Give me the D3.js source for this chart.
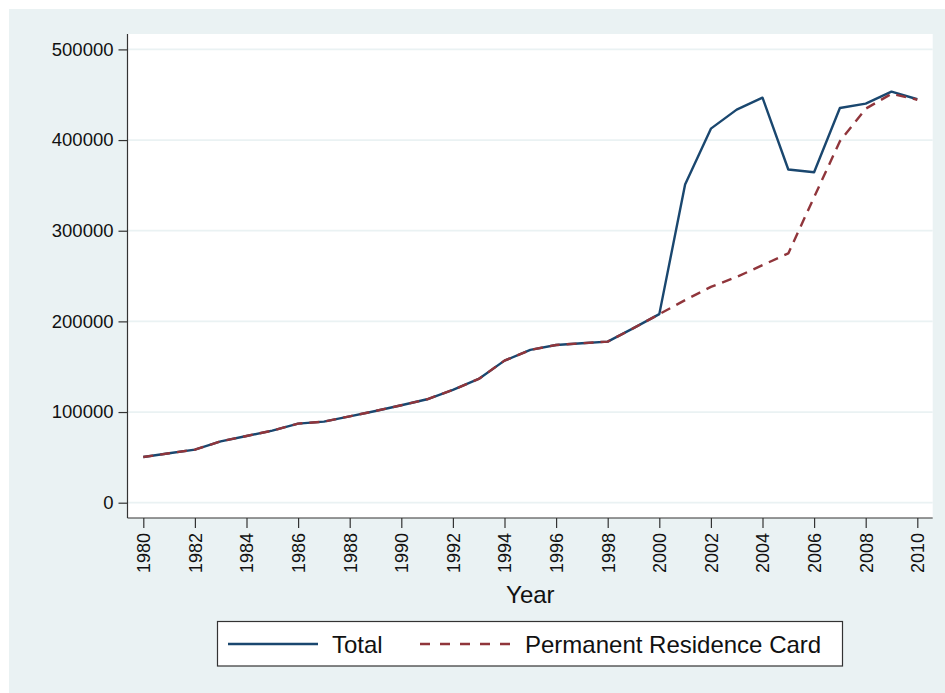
<!DOCTYPE html>
<html>
<head>
<meta charset="utf-8">
<script src="https://cdn.jsdelivr.net/npm/d3@7"></script>
<style>
  html, body { margin: 0; padding: 0; background: #ffffff; }
  svg { display: block; font-family: "Liberation Sans", Arial, sans-serif; }
</style>
</head>
<body>
<svg id="chart" width="945" height="693"></svg>
<script>
const years = d3.range(1980, 2011);
const totalValues = [
  50400, 54500, 58500, 67700, 73600, 79500, 87200, 89400, 95300, 101200,
  107500, 114100, 124400, 136500, 156700, 168500, 174000, 175900, 177700, 192500,
  208000, 351000, 412600, 433600, 446800, 367500, 364500, 435400, 440200, 453400,
  445000
];
const prcValues = [
  50400, 54500, 58500, 67700, 73600, 79500, 87200, 89400, 95300, 101200,
  107500, 114100, 124400, 136500, 156700, 168500, 174000, 175900, 177700, 192500,
  208000, 223500, 238000, 249000, 262000, 275000, 337000, 398700, 434600, 451000,
  444500
];
const yTicks = [0, 100000, 200000, 300000, 400000, 500000];
const xTicks = d3.range(1980, 2011, 2);
const seriesNames = ["Total", "Permanent Residence Card"];

const svg = d3.select("#chart");
const navy = "#1a476f", red = "#90353b", bg = "#eaf2f3";

// outer background
svg.append("rect").attr("x", 9).attr("y", 9).attr("width", 936).attr("height", 684).attr("fill", bg);

// plot region
const plot = { left: 128, right: 932.7, top: 34, bottom: 518 };
svg.append("rect").attr("x", plot.left).attr("y", plot.top)
  .attr("width", plot.right - plot.left).attr("height", plot.bottom - plot.top).attr("fill", "#ffffff");

const x = d3.scaleLinear().domain([1980, 2010]).range([143.3, 917.3]);
const y = d3.scaleLinear().domain([0, 500000]).range([502.7, 49.4]);

// gridlines
svg.append("g").selectAll("line").data(yTicks).join("line")
  .attr("x1", plot.left).attr("x2", plot.right)
  .attr("y1", d => y(d)).attr("y2", d => y(d))
  .attr("stroke", bg).attr("stroke-width", 1.8);

// y axis
const yAxis = d3.axisLeft(y).tickValues(yTicks).tickFormat(d3.format("d")).tickSize(9).tickPadding(5);
const gy = svg.append("g").attr("transform", `translate(${plot.left - 0.5},0)`).call(yAxis);
gy.select(".domain").attr("d", `M0,${plot.top}V${plot.bottom}`).attr("stroke", "#333").attr("stroke-width", 1.2);
gy.selectAll(".tick line").attr("stroke", "#333").attr("stroke-width", 1.2);
gy.selectAll(".tick text").attr("font-size", 18.5).attr("fill", "#111").attr("font-family", "Liberation Sans, Arial, sans-serif");

// x axis
const xAxis = d3.axisBottom(x).tickValues(xTicks).tickFormat(d3.format("d")).tickSize(10);
const gx = svg.append("g").attr("transform", `translate(0,${plot.bottom})`).call(xAxis);
gx.select(".domain").attr("d", `M${plot.left - 0.5},0H${plot.right}`).attr("stroke", "#333").attr("stroke-width", 1.2);
gx.selectAll(".tick line").attr("stroke", "#333").attr("stroke-width", 1.2);
gx.selectAll(".tick text")
  .attr("font-size", 18).attr("fill", "#111").attr("font-family", "Liberation Sans, Arial, sans-serif")
  .attr("transform", "rotate(-90)")
  .attr("text-anchor", "end")
  .attr("x", -15).attr("y", 0).attr("dy", "0.35em");

// axis title
svg.append("text").attr("x", (plot.left + plot.right) / 2).attr("y", 603)
  .attr("text-anchor", "middle").attr("font-size", 24).attr("fill", "#111").text("Year");

// lines
const line = d3.line().x((d, i) => x(years[i])).y(d => y(d));
svg.append("path").datum(totalValues).attr("d", line)
  .attr("fill", "none").attr("stroke", navy).attr("stroke-width", 2.4).attr("stroke-linejoin", "round");
svg.append("path").datum(prcValues).attr("d", line)
  .attr("fill", "none").attr("stroke", red).attr("stroke-width", 2.4)
  .attr("stroke-dasharray", "10,7").attr("stroke-linejoin", "round");

// legend
const lg = svg.append("g");
lg.append("rect").attr("x", 217.5).attr("y", 621.5).attr("width", 625).attr("height", 44.5)
  .attr("fill", "#ffffff").attr("stroke", "#333").attr("stroke-width", 1.2);
lg.append("line").attr("x1", 228).attr("x2", 318).attr("y1", 644).attr("y2", 644)
  .attr("stroke", navy).attr("stroke-width", 2.4);
lg.append("text").attr("x", 332).attr("y", 652.5).attr("font-size", 24).attr("fill", "#111").text(seriesNames[0]);
lg.append("line").attr("x1", 420).attr("x2", 510).attr("y1", 644).attr("y2", 644)
  .attr("stroke", red).attr("stroke-width", 2.4).attr("stroke-dasharray", "10,10");
lg.append("text").attr("x", 525).attr("y", 652.5).attr("font-size", 24).attr("fill", "#111").text(seriesNames[1]);
</script>
</body>
</html>
